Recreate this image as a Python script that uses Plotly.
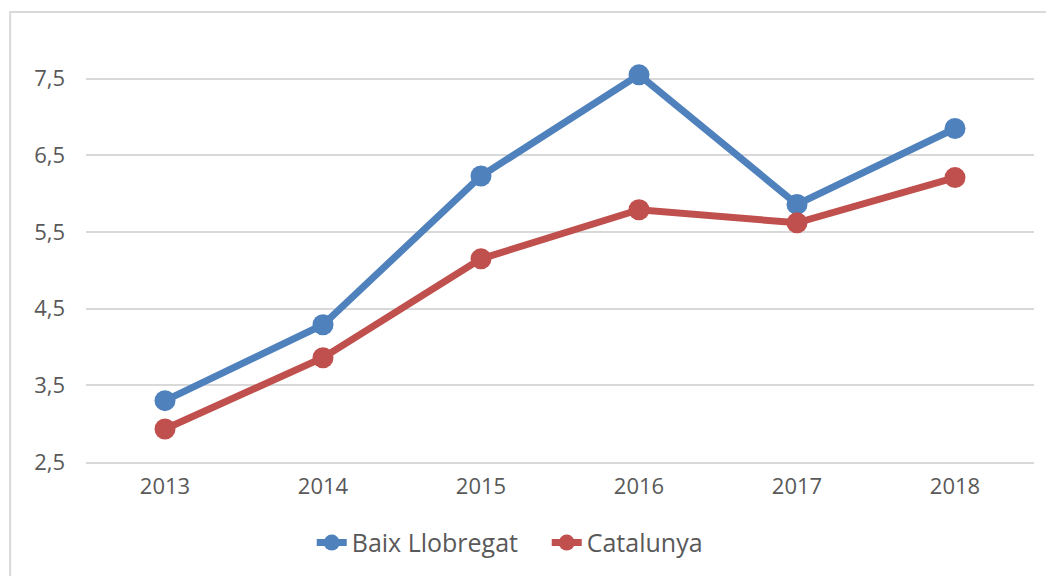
import plotly.graph_objects as go

# ---------------------------------------------------------------------
# Data
# ---------------------------------------------------------------------
years = ["2013", "2014", "2015", "2016", "2017", "2018"]
baix_llobregat = [3.30, 4.29, 6.23, 7.55, 5.86, 6.85]
catalunya = [2.93, 3.86, 5.15, 5.79, 5.62, 6.21]
y_ticks = [2.5, 3.5, 4.5, 5.5, 6.5, 7.5]
y_tick_labels = ["2,5", "3,5", "4,5", "5,5", "6,5", "7,5"]

BLUE = "#4F81BD"
RED = "#C0504D"
TEXT = "#595959"
GRID = "#D9D9D9"
FONT = "Open Sans, Noto Sans, sans-serif"

fig = go.Figure()
fig.add_trace(go.Scatter(
    x=years, y=baix_llobregat, name="Baix Llobregat", mode="lines+markers",
    line=dict(color=BLUE, width=7), marker=dict(color=BLUE, size=21),
))
fig.add_trace(go.Scatter(
    x=years, y=catalunya, name="Catalunya", mode="lines+markers",
    line=dict(color=RED, width=7), marker=dict(color=RED, size=21),
))

# chart frame (page has an 8px body margin, so positions are shifted)
fig.add_shape(
    type="rect", xref="paper", yref="paper", x0=-0.080, x1=1.2, y0=-0.6, y1=1.0297,
    line=dict(color=GRID, width=2), fillcolor="rgba(0,0,0,0)", layer="below",
)

fig.update_layout(
    width=1054, height=576,
    margin=dict(l=78, r=28, t=17, b=122, autoexpand=False),
    paper_bgcolor="white", plot_bgcolor="white",
    font=dict(family=FONT, size=22, color=TEXT),
    showlegend=True,
    legend=dict(
        orientation="h", x=0.486, xanchor="center", y=-0.185, yanchor="middle",
        font=dict(size=25, color=TEXT), traceorder="normal",
        itemwidth=30, entrywidth=190, entrywidthmode="pixels",
    ),
)
fig.update_xaxes(
    type="category", showgrid=False, showline=True, linecolor=GRID, linewidth=2,
    ticks="", tickfont=dict(size=22, color=TEXT), range=[-0.5, 5.5],
    ticklabelstandoff=4,
)
fig.update_yaxes(
    range=[2.5, 8.2], tickvals=y_ticks, ticktext=y_tick_labels,
    showgrid=True, gridcolor=GRID, gridwidth=2, zeroline=False,
    ticks="", ticklabelstandoff=20, tickfont=dict(size=22, color=TEXT),
)

fig.write_html("out.html")
